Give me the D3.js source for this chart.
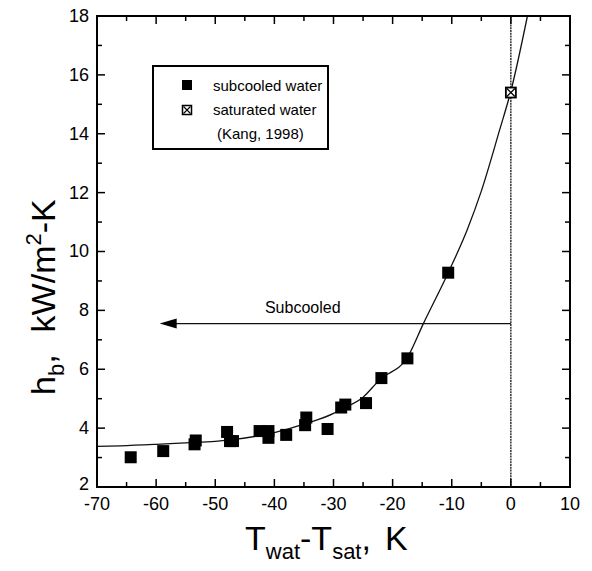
<!DOCTYPE html>
<html><head><meta charset="utf-8">
<script src="https://cdn.jsdelivr.net/npm/d3@7"></script>
<style>html,body{margin:0;padding:0;background:#fff}svg{display:block}text{font-family:"Liberation Sans",Arial,sans-serif;fill:#000}</style>
</head><body>
<svg id="c" width="592" height="571"></svg>
<script>
const xTicks = [-70,-60,-50,-40,-30,-20,-10,0,10];
const yTicks = [2,4,6,8,10,12,14,16,18];
const subX = [-64.3,-58.8,-53.5,-53.3,-48,-47.5,-47,-42.5,-41,-41,-38,-34.8,-34.6,-31,-28.7,-28,-24.5,-21.9,-17.5,-10.6];
const subY = [3.01,3.22,3.45,3.58,3.87,3.56,3.56,3.9,3.9,3.67,3.77,4.1,4.36,3.97,4.7,4.8,4.85,5.7,6.37,9.28];
const satX = [0];
const satY = [15.4];
const curveX = [-70,-66,-60,-55,-50,-47.5,-40,-34.6,-30,-28.9,-25,-22.2,-17.5,-14.8,-10.6,-7.4,-5,-1.9,0,2.8];
const curveY = [3.38,3.4,3.45,3.5,3.55,3.6,3.85,4.16,4.5,4.62,5.05,5.64,6.4,7.55,9.28,10.73,12.05,14.13,15.45,18];
const arrowY = 7.55, arrowFrom = 0, arrowTo = -59.4;
const legendLabels = ["subcooled water","saturated water","(Kang, 1998)"];

const svg = d3.select("#c");
const L=97,R=570,T=16,B=487;
const x = d3.scaleLinear().domain([-70,10]).range([L,R]);
const y = d3.scaleLinear().domain([2,18]).range([B,T]);

// reference lines
svg.append("line").attr("x1",x(0)).attr("x2",x(0)).attr("y1",T).attr("y2",B)
  .attr("stroke","#000").attr("stroke-width",1.2).attr("stroke-dasharray","2,0.8");
svg.append("line").attr("x1",x(arrowFrom)).attr("x2",x(arrowTo)+14).attr("y1",y(arrowY)).attr("y2",y(arrowY))
  .attr("stroke","#111").attr("stroke-width",1.3);
svg.append("path").attr("d",`M${x(arrowTo)},${y(arrowY)} L${x(arrowTo)+17},${y(arrowY)-5} L${x(arrowTo)+17},${y(arrowY)+5} Z`).attr("fill","#000");
svg.append("text").attr("x",x(-35.2)).attr("y",y(arrowY)-11).attr("text-anchor","middle").attr("font-size",16).text("Subcooled");

// curve
svg.append("path").datum(curveX.map((d,i)=>[d,curveY[i]]))
  .attr("d",d3.line().x(d=>x(d[0])).y(d=>y(d[1])).curve(d3.curveMonotoneX))
  .attr("fill","none").attr("stroke","#111").attr("stroke-width",1.3);

// points
const s=12;
svg.append("g").selectAll("rect").data(subX.map((d,i)=>[d,subY[i]])).join("rect")
  .attr("x",d=>x(d[0])-s/2).attr("y",d=>y(d[1])-s/2).attr("width",s).attr("height",s).attr("fill","#000");
const sg = svg.append("g").selectAll("g").data(satX.map((d,i)=>[d,satY[i]])).join("g")
  .attr("transform",d=>`translate(${x(d[0])},${y(d[1])})`);
sg.append("rect").attr("x",-5).attr("y",-5).attr("width",10).attr("height",10).attr("fill","#fff").attr("stroke","#000").attr("stroke-width",1.8);
sg.append("path").attr("d","M-4,-4L4,4M4,-4L-4,4").attr("stroke","#000").attr("stroke-width",1.3);

// axes frame
svg.append("rect").attr("x",L).attr("y",T).attr("width",R-L).attr("height",B-T).attr("fill","none").attr("stroke","#000").attr("stroke-width",2);
const minorX = d3.range(-65,10,10), minorY = d3.range(3,18,2);
const tg = svg.append("g").attr("stroke","#000").attr("stroke-width",1.5);
xTicks.slice(1,-1).forEach(v=>{tg.append("line").attr("x1",x(v)).attr("x2",x(v)).attr("y1",B).attr("y2",B-8);tg.append("line").attr("x1",x(v)).attr("x2",x(v)).attr("y1",T).attr("y2",T+8);});
minorX.forEach(v=>{tg.append("line").attr("x1",x(v)).attr("x2",x(v)).attr("y1",B).attr("y2",B-5);tg.append("line").attr("x1",x(v)).attr("x2",x(v)).attr("y1",T).attr("y2",T+5);});
yTicks.slice(1,-1).forEach(v=>{tg.append("line").attr("y1",y(v)).attr("y2",y(v)).attr("x1",L).attr("x2",L+8);tg.append("line").attr("y1",y(v)).attr("y2",y(v)).attr("x1",R).attr("x2",R-8);});
minorY.forEach(v=>{tg.append("line").attr("y1",y(v)).attr("y2",y(v)).attr("x1",L).attr("x2",L+5);tg.append("line").attr("y1",y(v)).attr("y2",y(v)).attr("x1",R).attr("x2",R-5);});

svg.append("g").selectAll("text").data(xTicks).join("text").attr("x",d=>x(d)).attr("y",B+23).attr("text-anchor","middle").attr("font-size",18).text(d=>d);
svg.append("g").selectAll("text").data(yTicks).join("text").attr("x",L-8).attr("y",d=>y(d)).attr("dy",d=>d===2?"0.15em":"0.33em").attr("text-anchor","end").attr("font-size",18).text(d=>d);

// axis titles
const xt = svg.append("text").attr("x",245).attr("y",550).attr("font-size",34);
xt.append("tspan").text("T");
xt.append("tspan").attr("font-size",22).attr("dy",9).text("wat");
xt.append("tspan").attr("dy",-9).text("-T");
xt.append("tspan").attr("font-size",22).attr("dy",9).text("sat");
xt.append("tspan").attr("dy",-9).text(",");
xt.append("tspan").attr("dx",14).text("K");

const yt = svg.append("text").attr("transform","translate(55,395) rotate(-90)").attr("font-size",34);
yt.append("tspan").text("h");
yt.append("tspan").attr("font-size",22).attr("dy",9).text("b");
yt.append("tspan").attr("dy",-9).text(",");
yt.append("tspan").attr("dx",22).text("kW/m");
yt.append("tspan").attr("font-size",22).attr("dy",-14).text("2");
yt.append("tspan").attr("dy",14).text("-K");

// legend
svg.append("rect").attr("x",153).attr("y",66).attr("width",175).attr("height",83).attr("fill","#fff").attr("stroke","#000").attr("stroke-width",2);
svg.append("rect").attr("x",187-5).attr("y",85-5).attr("width",10).attr("height",10).attr("fill","#000");
const lg = svg.append("g").attr("transform","translate(187,110)");
lg.append("rect").attr("x",-4.5).attr("y",-4.5).attr("width",9).attr("height",9).attr("fill","#fff").attr("stroke","#000").attr("stroke-width",1.5);
lg.append("path").attr("d","M-3.5,-3.5L3.5,3.5M3.5,-3.5L-3.5,3.5").attr("stroke","#000").attr("stroke-width",1.1);
svg.append("text").attr("x",213).attr("y",91).attr("font-size",15).text(legendLabels[0]);
svg.append("text").attr("x",213).attr("y",115).attr("font-size",15).text(legendLabels[1]);
svg.append("text").attr("x",217).attr("y",139).attr("font-size",15).text(legendLabels[2]);
</script>
</body></html>
